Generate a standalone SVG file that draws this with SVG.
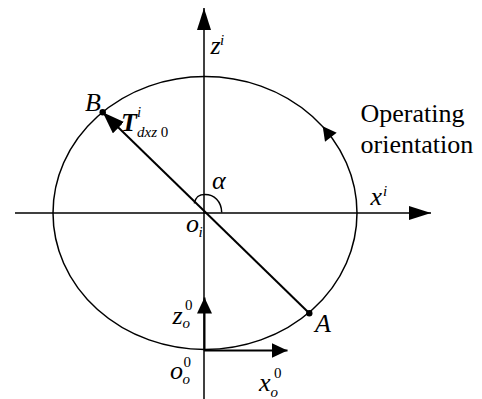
<svg xmlns="http://www.w3.org/2000/svg" width="482" height="399" viewBox="0 0 482 399">
<style>
  .ln { stroke: #000; fill: none; stroke-width: 1.5; }
  .thick { stroke: #000; fill: none; stroke-width: 2; }
  .lbl { font-family: 'Liberation Serif', 'Times New Roman', serif; font-size: 26px; fill: #000; }
  .it { font-style: italic; }
  .sm { font-size: 15px; }
</style>
<defs>
  <marker id="arrAxis" viewBox="0 0 22 14" markerWidth="22" markerHeight="14" refX="22" refY="7" orient="auto" markerUnits="userSpaceOnUse">
    <path d="M0,0 L22,7 L0,14 Z" fill="#000"/>
  </marker>
  <marker id="arrSmall" viewBox="0 0 16 15" markerWidth="16" markerHeight="15" refX="16" refY="7.5" orient="auto" markerUnits="userSpaceOnUse">
    <path d="M0,0 L16,7.5 L0,15 Z" fill="#000"/>
  </marker>
  <marker id="arrVec" viewBox="0 0 22 16" markerWidth="22" markerHeight="16" refX="22" refY="8" orient="auto" markerUnits="userSpaceOnUse">
    <path d="M0,0 L22,8 L0,16 Z" fill="#000"/>
  </marker>
</defs>

<g id="ellipse">
  <ellipse class="ln" cx="205" cy="213" rx="152" ry="136.5"/>
</g>

<g id="connectors">
  <line id="x-axis" class="ln" x1="15" y1="213" x2="431" y2="213" marker-end="url(#arrAxis)"/>
  <line id="z-axis" class="ln" x1="204" y1="399" x2="204" y2="8" marker-end="url(#arrAxis)"/>
  <line id="vec-T" class="thick" x1="309.3" y1="313.3" x2="102.7" y2="112.3" marker-end="url(#arrVec)"/>
  <line id="z0-axis" class="thick" x1="204.5" y1="350.5" x2="204.5" y2="297.5" marker-end="url(#arrSmall)"/>
  <line id="x0-axis" class="thick" x1="204" y1="350.5" x2="287.5" y2="350.5" marker-end="url(#arrSmall)"/>
  <path id="alpha-arc" class="ln" d="M194.3,203.3 C196,195 201,194.5 205,194.5 C214,194.5 221.5,201 221.7,212.5"/>
  <polygon id="orient-arrow" points="322.7,126.2 325,141.7 336.7,132.7" fill="#000"/>
</g>

<g id="point-A">
  <circle cx="309.3" cy="313.3" r="3.2" fill="#000"/>
  <text class="lbl it" x="315" y="332">A</text>
</g>
<g id="point-B">
  <circle cx="102.7" cy="112.3" r="3.2" fill="#000"/>
  <text class="lbl it" x="85" y="110.5">B</text>
</g>
<g id="label-T">
  <text class="lbl it" x="121" y="131" font-weight="bold">T</text>
  <text class="lbl it sm" x="137" y="117">i</text>
  <text class="lbl sm" x="137" y="137"><tspan font-style="italic">dxz</tspan> 0</text>
</g>
<g id="label-zi">
  <text class="lbl it" x="210.5" y="54">z</text>
  <text class="lbl it sm" x="220" y="45">i</text>
</g>
<g id="label-xi">
  <text class="lbl it" x="370.5" y="205">x</text>
  <text class="lbl it sm" x="383" y="196">i</text>
</g>
<g id="label-alpha">
  <text class="lbl it" x="212" y="189">&#945;</text>
</g>
<g id="label-oi">
  <text class="lbl it" x="186" y="232">o</text>
  <text class="lbl it sm" x="198.5" y="237">i</text>
</g>
<g id="label-operating">
  <text class="lbl" x="360.5" y="121.5">Operating</text>
  <text class="lbl" x="360.5" y="153">orientation</text>
</g>
<g id="label-z0">
  <text class="lbl it" x="172.5" y="323.5">z</text>
  <text class="lbl sm" x="185" y="310">0</text>
  <text class="lbl it sm" x="182.5" y="328">o</text>
</g>
<g id="label-o0">
  <text class="lbl it" x="170" y="379">o</text>
  <text class="lbl sm" x="183.5" y="367">0</text>
  <text class="lbl it sm" x="182.5" y="384">o</text>
</g>
<g id="label-x0">
  <text class="lbl it" x="259" y="390.5">x</text>
  <text class="lbl sm" x="274" y="378">0</text>
  <text class="lbl it sm" x="270.5" y="397">o</text>
</g>
</svg>
